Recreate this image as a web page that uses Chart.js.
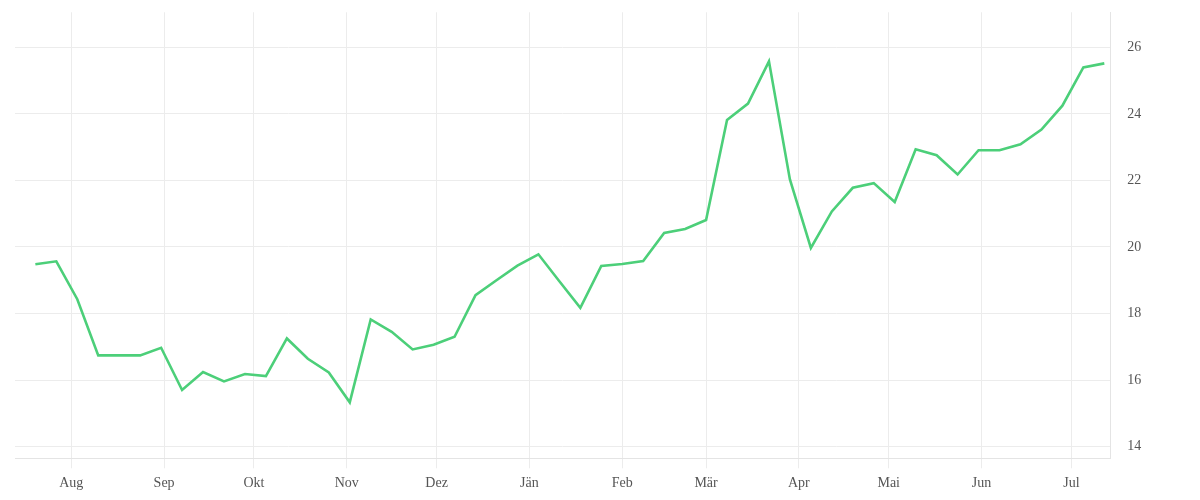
<!DOCTYPE html>
<html>
<head>
<meta charset="utf-8">
<script src="https://cdn.jsdelivr.net/npm/chart.js@4"></script>
<style>
html,body{margin:0;padding:0;background:#fff;}
#wrap{width:1200px;height:500px;}
</style>
</head>
<body>
<div id="wrap"><canvas id="c" width="1200" height="500"></canvas></div>
<script>
const dates = [
  "2022-07-20","2022-07-27","2022-08-03","2022-08-10","2022-08-17","2022-08-24","2022-08-31",
  "2022-09-07","2022-09-14","2022-09-21","2022-09-28","2022-10-05","2022-10-12","2022-10-19",
  "2022-10-26","2022-11-02","2022-11-09","2022-11-16","2022-11-23","2022-11-30","2022-12-07",
  "2022-12-14","2022-12-21","2022-12-28","2023-01-04","2023-01-11","2023-01-18","2023-01-25",
  "2023-02-01","2023-02-08","2023-02-15","2023-02-22","2023-03-01","2023-03-08","2023-03-15",
  "2023-03-22","2023-03-29","2023-04-05","2023-04-12","2023-04-19","2023-04-26","2023-05-03",
  "2023-05-10","2023-05-17","2023-05-24","2023-05-31","2023-06-07","2023-06-14","2023-06-21",
  "2023-06-28","2023-07-05","2023-07-12"
];
const values = [
  19.48,19.57,18.43,16.74,16.74,16.74,16.97,
  15.70,16.24,15.96,16.18,16.12,17.25,16.64,
  16.23,15.33,17.82,17.45,16.92,17.06,17.30,
  18.55,19.00,19.44,19.78,18.97,18.17,19.43,
  19.49,19.58,20.42,20.54,20.81,23.82,24.31,
  25.58,22.03,19.97,21.07,21.78,21.92,21.35,
  22.94,22.76,22.18,22.91,22.91,23.09,23.53,
  24.25,25.40,25.52
];
const monthTicks = ["2022-08-01","2022-09-01","2022-10-01","2022-11-01","2022-12-01","2023-01-01",
  "2023-02-01","2023-03-01","2023-04-01","2023-05-01","2023-06-01","2023-07-01"];
const monthLabels = ["Aug","Sep","Okt","Nov","Dez","Jän","Feb","Mär","Apr","Mai","Jun","Jul"];
const yTicks = [14,16,18,20,22,24,26];

const DAY = 86400000;
const origin = Date.parse("2022-08-01T00:00:00Z");
const toDay = s => (Date.parse(s + "T00:00:00Z") - origin) / DAY;

const points = dates.map((d, i) => ({ x: toDay(d), y: values[i] }));
const gridColor = '#ececec';
const font = { family: '"Liberation Serif", serif', size: 14 };

new Chart(document.getElementById('c'), {
  type: 'line',
  data: {
    datasets: [{
      data: points,
      borderColor: '#4ccf79',
      borderWidth: 2.6,
      pointRadius: 0,
      tension: 0,
      fill: false
    }]
  },
  options: {
    responsive: false,
    animation: false,
    devicePixelRatio: 1,
    layout: { padding: { top: 12.3, left: 15, right: 0, bottom: 0 } },
    plugins: { legend: { display: false }, tooltip: { enabled: false } },
    scales: {
      x: {
        type: 'linear',
        min: -18.8,
        max: 347.0,
        afterBuildTicks: axis => { axis.ticks = monthTicks.map(d => ({ value: toDay(d) })); },
        afterFit: axis => { axis.height = 41.7; axis.paddingLeft = 0; axis.paddingRight = 0; },
        ticks: {
          autoSkip: false, maxRotation: 0, padding: 7,
          color: '#555', font: font,
          callback: (v, i) => monthLabels[i]
        },
        grid: { color: gridColor, tickColor: gridColor, tickLength: 10, drawTicks: true },
        border: { display: true, color: '#e4e4e4' }
      },
      y: {
        type: 'linear',
        position: 'right',
        min: 13.647,
        max: 27.056,
        afterBuildTicks: axis => { axis.ticks = yTicks.map(v => ({ value: v })); },
        afterFit: axis => { axis.width = 89.7; axis.paddingTop = 0; axis.paddingBottom = 0; },
        ticks: { padding: 17, color: '#555', font: font },
        grid: { color: gridColor, drawTicks: false },
        border: { display: true, color: '#e4e4e4' }
      }
    }
  }
});
</script>
</body>
</html>
